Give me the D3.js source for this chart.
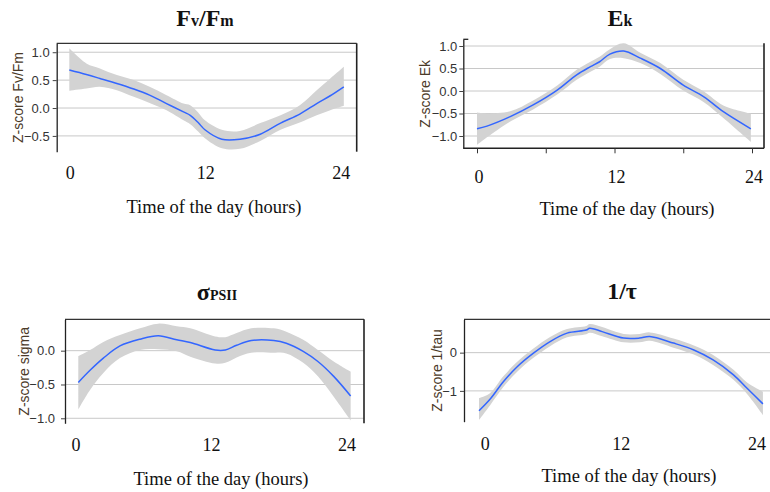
<!DOCTYPE html>
<html>
<head>
<meta charset="utf-8">
<script src="https://cdn.jsdelivr.net/npm/d3@7"></script>
<style>
  body { margin: 0; background: #fff; }
  svg { display: block; }
  .ytick text { font-family: "Liberation Sans", Arial, sans-serif; font-size: 13px; fill: #333; }
  .ylab { font-family: "Liberation Sans", Arial, sans-serif; font-size: 14px; fill: #4b3a28; }
  .serif { font-family: "Liberation Serif", "Times New Roman", serif; fill: #111; }
</style>
</head>
<body>
<svg width="770" height="492"></svg>
<script>
// Fv/Fm
var fvHours = [0.09, 1.6, 2.8, 4.3, 5.8, 7.2, 8.7, 10.2, 10.8, 11.5, 12.1, 13.6, 15.2, 17.0, 18.8, 20.5, 22.0, 23.2, 24.4];
var fvMean  = [0.68, 0.60, 0.53, 0.44, 0.34, 0.23, 0.08, -0.07, -0.13, -0.26, -0.39, -0.56, -0.56, -0.47, -0.27, -0.11, 0.08, 0.22, 0.38];
var fvLow   = [0.31, 0.35, 0.38, 0.32, 0.20, 0.09, -0.04, -0.22, -0.29, -0.42, -0.54, -0.72, -0.73, -0.59, -0.39, -0.26, -0.13, -0.04, 0.04];
var fvHigh  = [1.07, 0.80, 0.71, 0.59, 0.50, 0.38, 0.23, 0.08, 0.05, -0.08, -0.22, -0.39, -0.41, -0.27, -0.13, 0.05, 0.32, 0.53, 0.74];

// Ek
var ekHours = [0, 0.87, 2.9, 4.9, 7.0, 8.7, 9.9, 10.7, 11.6, 12.8, 14.25, 16.0, 18.0, 19.8, 21.5, 23.9];
var ekMean  = [-0.84, -0.78, -0.57, -0.31, 0.02, 0.36, 0.54, 0.65, 0.82, 0.89, 0.73, 0.50, 0.13, -0.13, -0.46, -0.84];
var ekLow   = [-1.20, -1.03, -0.68, -0.41, -0.08, 0.25, 0.43, 0.54, 0.71, 0.73, 0.62, 0.38, 0.01, -0.25, -0.60, -1.13];
var ekHigh  = [-0.48, -0.50, -0.45, -0.21, 0.12, 0.47, 0.65, 0.76, 0.93, 1.06, 0.85, 0.62, 0.25, -0.01, -0.32, -0.50];

// sigma PSII
var sgHours = [0.38, 1.42, 2.6, 4.07, 5.85, 7.47, 9.1, 10.3, 12.5, 13.4, 14.4, 15.7, 17.7, 18.8, 20.3, 21.6, 23.0, 24.5];
var sgMean  = [-0.47, -0.29, -0.11, 0.07, 0.17, 0.22, 0.16, 0.12, 0.01, 0.01, 0.08, 0.15, 0.15, 0.11, -0.01, -0.16, -0.38, -0.67];
var sgLow   = [-0.87, -0.58, -0.33, -0.11, 0.01, 0.02, -0.01, -0.09, -0.19, -0.18, -0.10, -0.03, -0.03, -0.04, -0.18, -0.38, -0.68, -1.03];
var sgHigh  = [-0.08, 0.01, 0.13, 0.23, 0.33, 0.40, 0.36, 0.33, 0.21, 0.20, 0.26, 0.33, 0.33, 0.28, 0.16, 0.01, -0.16, -0.31];

// 1/tau
var tauHours = [-0.38, 0.59, 1.77, 2.95, 4.4, 5.9, 7.4, 9.1, 9.4, 10.5, 12.4, 13.8, 14.7, 16.8, 18.6, 20.3, 22.1, 23.3, 24.7];
var tauMean  = [-1.52, -1.22, -0.76, -0.38, -0.02, 0.29, 0.51, 0.59, 0.64, 0.55, 0.38, 0.38, 0.42, 0.25, 0.07, -0.19, -0.58, -0.93, -1.34];
var tauLow   = [-1.76, -1.38, -0.90, -0.51, -0.14, 0.17, 0.40, 0.48, 0.52, 0.43, 0.27, 0.27, 0.31, 0.13, -0.05, -0.32, -0.71, -1.08, -1.63];
var tauHigh  = [-1.19, -1.06, -0.62, -0.25, 0.10, 0.41, 0.62, 0.70, 0.75, 0.67, 0.49, 0.49, 0.53, 0.37, 0.19, -0.06, -0.45, -0.78, -1.02];

var xLabels = [0, 12, 24];

function zip(h, m, lo, hi) {
    return h.map(function(d, i) { return {h: d, m: m[i], lo: lo[i], hi: hi[i]}; });
}

var panels = [
    {data: zip(fvHours, fvMean, fvLow, fvHigh), yTitle: "Z-score Fv/Fm", title: [["F", 24], ["v", 16], ["/", 24], ["F", 24], ["m", 16]],
     left: 56.7, right: 356.7, top: 43.3, bottom: 151.7, x0: 68.3, x24: 339.3, yDom: [-0.783, 1.16], yTicks: [-0.5, 0, 0.5, 1], fmt: ".1f",
     topBorder: true, bottomAxis: false, labelPad: 7, yTitleX: 17.5, titleX: 205, titleY: 26, tickY: 179, xTitleX: 214, xTitleY: 213},
    {data: zip(ekHours, ekMean, ekLow, ekHigh), yTitle: "Z-score Ek", title: [["E", 24], ["k", 16]],
     left: 463.3, right: 764, top: 39.3, bottom: 148.3, x0: 477, x24: 752, yDom: [-1.273, 1.149], yTicks: [-1, -0.5, 0, 0.5, 1], fmt: ".1f",
     topBorder: false, bottomAxis: true, labelPad: 6, yTitleX: 425, titleX: 620, titleY: 26, tickY: 183, xTitleX: 627, xTitleY: 215},
    {data: zip(sgHours, sgMean, sgLow, sgHigh), yTitle: "Z-score sigma", title: [["σ", 24], ["PSII", 14]],
     left: 65, right: 364, top: 319.3, bottom: 423.3, x0: 74, x24: 345, yDom: [-1.074, 0.464], yTicks: [-1, -0.5, 0], fmt: ".1f",
     topBorder: true, bottomAxis: false, labelPad: 10, yTitleX: 23.5, titleX: 217, titleY: 300, tickY: 451, xTitleX: 221, xTitleY: 485},
    {data: zip(tauHours, tauMean, tauLow, tauHigh), yTitle: "Z-score 1/tau", title: [["1/τ", 24]],
     left: 464, right: 775, top: 319.3, bottom: 421.7, x0: 483.3, x24: 755, yDom: [-1.806, 0.872], yTicks: [-1, 0], fmt: "d",
     topBorder: true, bottomAxis: false, labelPad: 7, yTitleX: 437, titleX: 622, titleY: 299, tickY: 450, xTitleX: 629, xTitleY: 482}
];

var svg = d3.select("svg");

panels.forEach(function(p) {
    var g = svg.append("g");

    var x = d3.scaleLinear().domain([0, 24]).range([p.x0, p.x24]);
    var y = d3.scaleLinear().domain(p.yDom).range([p.bottom, p.top]);

    // GRID
    g.selectAll(".grid")
        .data(p.yTicks)
        .enter()
        .append("line")
        .attr("x1", p.left)
        .attr("x2", p.right)
        .attr("y1", function(d) { return y(d); })
        .attr("y2", function(d) { return y(d); })
        .attr("stroke", "#c8c8c8")
        .attr("stroke-width", 1);

    // BAND
    var area = d3.area()
        .curve(d3.curveCatmullRom)
        .x(function(d) { return x(d.h); })
        .y0(function(d) { return y(d.lo); })
        .y1(function(d) { return y(d.hi); });
    g.append("path")
        .attr("d", area(p.data))
        .attr("fill", "#d3d3d3");

    // MEAN LINE
    var line = d3.line()
        .curve(d3.curveCatmullRom)
        .x(function(d) { return x(d.h); })
        .y(function(d) { return y(d.m); });
    g.append("path")
        .attr("d", line(p.data))
        .attr("fill", "none")
        .attr("stroke", "#3366ff")
        .attr("stroke-width", 1.5);

    // FRAME
    if (p.topBorder) {
        g.append("line").attr("x1", p.left).attr("x2", p.right).attr("y1", p.top).attr("y2", p.top)
            .attr("stroke", "#333").attr("stroke-width", 1.3);
    } else {
        g.append("line").attr("x1", p.left).attr("x2", p.left + 5).attr("y1", p.top).attr("y2", p.top)
            .attr("stroke", "#222").attr("stroke-width", 1.3);
    }
    g.append("line").attr("x1", p.right).attr("x2", p.right).attr("y1", p.topBorder ? p.top : p.top + 4).attr("y2", p.bottom)
        .attr("stroke", "#222").attr("stroke-width", 1.6);

    // Y AXIS
    var yAxis = d3.axisLeft(y)
        .tickValues(p.yTicks)
        .tickSize(4)
        .tickSizeOuter(0)
        .tickPadding(p.labelPad - 4)
        .tickFormat(d3.format(p.fmt));
    var ya = g.append("g")
        .attr("class", "ytick")
        .attr("transform", "translate(" + p.left + ",0)")
        .call(yAxis);
    ya.select(".domain").attr("stroke", "#222").attr("stroke-width", 1.3);
    ya.selectAll(".tick line").attr("stroke", "#444");
    ya.selectAll("text").attr("font-family", null).attr("font-size", null).attr("fill", null);

    // X AXIS (only the Ek panel shows one)
    if (p.bottomAxis) {
        var xAxis = d3.axisBottom(x)
            .tickValues([0, 6, 12, 18, 24])
            .tickSize(5)
            .tickSizeOuter(0)
            .tickFormat("");
        var xa = g.append("g")
            .attr("transform", "translate(0," + p.bottom + ")")
            .call(xAxis);
        xa.select(".domain").attr("d", "M" + p.left + ",0H" + p.right).attr("stroke", "#222").attr("stroke-width", 1.6);
        xa.selectAll(".tick line").attr("stroke", "#333");
    }

    // X LABELS
    g.selectAll(".xlab")
        .data(xLabels)
        .enter()
        .append("text")
        .attr("class", "serif")
        .attr("x", function(d) { return x(d) + 2; })
        .attr("y", p.tickY)
        .attr("text-anchor", "middle")
        .style("font-size", "18px")
        .text(function(d) { return d; });

    g.append("text")
        .attr("class", "serif")
        .attr("x", p.xTitleX)
        .attr("y", p.xTitleY)
        .attr("text-anchor", "middle")
        .style("font-size", "18.5px")
        .text("Time of the day (hours)");

    // Y TITLE
    g.append("text")
        .attr("class", "ylab")
        .attr("transform", "translate(" + (p.yTitleX + 5) + "," + ((p.top + p.bottom) / 2) + ") rotate(-90)")
        .attr("text-anchor", "middle")
        .text(p.yTitle);

    // TITLE
    var t = g.append("text")
        .attr("class", "serif")
        .attr("x", p.titleX)
        .attr("y", p.titleY)
        .attr("text-anchor", "middle")
        .style("font-weight", "bold");
    p.title.forEach(function(s) {
        t.append("tspan").style("font-size", s[1] + "px").text(s[0]);
    });
});
</script>
</body>
</html>
